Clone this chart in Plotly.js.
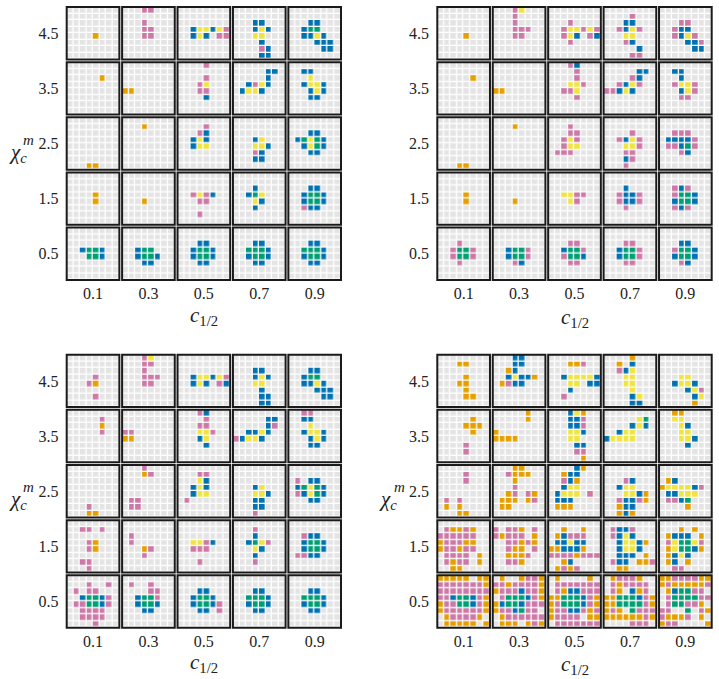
<!DOCTYPE html>
<html><head><meta charset="utf-8">
<script src="https://cdn.plot.ly/plotly-3.0.1.min.js"></script>
<style>html,body{margin:0;padding:0;background:#fff}</style>
</head><body><div id="chart" style="width:719px;height:679px"></div>
<script>
// c_{1/2} categories (left to right) and chi_c^m categories (top to bottom)
const cLabels = ['0.1','0.3','0.5','0.7','0.9'];
const chiLabels = ['4.5','3.5','2.5','1.5','0.5'];
// cell states: . empty, o orange, p pink, y yellow, b blue, g green ; each lattice 8 rows (top->bottom)
const gridTL = [
 ["........ ........ ........ ........ ....o... ........ ........ ........",
  "...pp... ........ ...p.... ...pp... ...pp... ........ ........ ........",
  "........ ........ ........ ..byybyp ..byb.pp ........ ........ ........",
  "........ ........ ...bb... ...byb.. ...yy... ....b... ....pb.. ....bb..",
  "........ ........ ...bb... ..bgg... ..bbyb.. ....bbb. .....bb. ........"],
 ["........ ........ .....o.. ........ ........ ........ ........ ........",
  "........ ........ ........ ........ oo...... ........ ........ ........",
  "....p... ........ ....p... ...py... ...pp... ....b... ........ ........",
  "........ .....bb. .....b.. ..bpyb.. .byyb... ........ ........ ........",
  "........ ..bb.... ...y.... ..byyb.. ...byb.. ...bb... ........ ........"],
 ["........ ........ ........ ........ ........ ........ ........ ...oo...",
  "........ ...o.... ........ ........ ........ ........ ........ ........",
  "........ ....p... ...pb... ..byb... ..byy... ........ ........ ........",
  "........ ........ ........ ...by... ...yyb.. ...pb... ...bb... ........",
  "........ ........ ...bb... .bgygb.. ..bygb.. ...bb... ........ ........"],
 ["........ ........ ........ ....o... ....o... ........ ........ ........",
  "........ ........ ........ ........ ...o.... ........ ........ ........",
  "........ ........ ........ ..pypb.. ...pp... ........ ...p.... ........",
  "........ ........ ...b.... ..bgy... ...yb... ...b.... ........ ........",
  "........ ........ ...bb... ..bggb.. ..bggb.. ..pbb... ........ ........"],
 ["........ ........ ........ ..bggb.. ...ggb.. ........ ........ ........",
  "........ ........ ........ ..bgg... ..bggb.. ...bb... ........ ........",
  "........ ........ ...bb... ..bggb.. ..bggb.. ...bb... ........ ........",
  "........ ........ ...bb... ..gggb.. ..bggb.. ...bb... ........ ........",
  "........ ........ ...bb... ..gggb.. ..bggb.. ...bb... ........ ........"]
];
const gridTR = [
 ["........ ........ ........ ........ ....o... ........ ........ ........",
  "...py... ...p.... ...p.... ...ppp.. ...pp... ........ ........ ........",
  "........ ........ ...p.... ..pyypyp ..pyb.pb ...p.... ........ ........",
  "........ ....p... ...bb... ..pbyp.. ...yy... ...pb... .....b.. ....pp..",
  "........ ........ ...pp... ..pbb... ..pbyp.. ....bbp. .....bb. ........"],
 ["........ ........ .....o.. ........ ........ ........ ........ ........",
  "........ ........ ........ ........ oo...... ........ ........ ........",
  "...pb... ....p... ....p... ...yyp.. ..ppy... ....p... ........ ........",
  "........ .....bb. ....pb.. ..pbyp.. ppbyb... ........ ........ ........",
  "........ ..bb.... ...b.... ..pyyp.. ...byp.. ...pp... ........ ........"],
 ["........ ........ ........ ........ ........ ........ ........ ...oo...",
  "........ ...o.... ........ ........ ........ ........ ........ ........",
  "........ ...p.... ...pp... ..pyp... ..pyy... .ppp.... ........ ........",
  "........ ........ ....p... ..pbyp.. ...yyp.. ...pp... ...bp... ...p....",
  "........ ........ ..ppp... .bbbbp.. .ppbgp.. ...pb... ........ ........"],
 ["........ ........ ........ ....o... ....o... ........ ........ ........",
  "........ ........ ........ ........ ...o.... ........ ........ ........",
  "........ ........ ........ ..yypp.. ...yp... ........ ........ ........",
  "........ ........ ...b.... ..pbbp.. ..pbbp.. ...p.... ........ ........",
  "........ ........ ..pbp... ..pggb.. ..bggb.. ..pbp... ........ ........"],
 ["........ ........ ...p.... ..pggp.. ..pggp.. ...p.... ........ ........",
  "........ ........ ........ ..bggp.. ..bggp.. ...pb... ........ ........",
  "........ ........ ...pp... ..bggp.. ..pggb.. ...pp... ........ ........",
  "........ ........ ...pp... ..bggp.. ..bggp.. ...pp... ........ ........",
  "........ ........ ...bb... ..pggb.. ..bggb.. ...pb... ........ ........"]
];
const gridBL = [
 ["........ ........ ........ ....p... ...po... ........ ....p... ........",
  "...py... ...pp... ...p.... ...ppp.. ...pp... ........ ........ ........",
  "........ ........ ........ ..byybyp ..byb.pb ........ ........ ........",
  "........ ........ ...bb... ...byb.. ...yy... ....b... ....bb.. ....bb..",
  "........ ........ ...bb... ..bgg... ..bbyb.. ....bbb. .....bb. ........"],
 ["........ .....p.. .....o.. .....p.. ........ ........ ........ ........",
  "........ ........ ........ pp...... oo...... ........ ........ ........",
  "...pb... ....p... ...pp... ...yyp.. ...by... ....b... ........ ........",
  "........ .....bb. .....bp. ..bbyb.. pbyyb... ........ ........ ........",
  "..pp.... ..bb.... ...y.... ..byyb.. ...byb.. ...bb... ........ ........"],
 ["........ ........ ........ ........ ........ ........ ...p.... ...oo...",
  "...p.... ...op... ........ ........ ........ .pp..... .pp..... ........",
  "........ ...pp... ...yb... ..byb... ..byy... .p...... ........ ........",
  "........ ........ ........ ...by... ...yyb.. ...bb... ...bb... ...p....",
  "........ ........ .p.bb... .bgygb.. .pbygb.. ...bb... ........ ........"],
 ["........ ..pp.p.. ........ ...po... ...po... ........ ..pp.... ...p....",
  "........ ........ .p...... .p...... ...op... ...p.... ........ ........",
  "........ ........ ........ ..yypb.. ..ppp... ........ ...p.... ........",
  "........ ...p.... ...b.... ..bgyp.. ...yb... ...b.... ...p.... ........",
  "........ ........ ..pbb... ..bggb.. ..bggb.. .ppbb... ........ ........"],
 ["........ ...p..p. .p.pp... ..bggbp. .ppggbp. ..pppp.. ..pppp.. ....p...",
  "........ .p..p... ....pp.. ..bggp.. ..bggb.. ...bb... ........ ........",
  "........ ........ ...bb... ..bggb.. ..bggbp. ...bb.p. ........ ........",
  "........ ........ ...bb... ..gggb.. ..bggb.. ...bb... ........ ........",
  "........ ........ ...bb... ..gggb.. ..bggb.. ...bb... ........ ........"]
];
const gridBR = [
 ["........ ...oo... ........ ....o... ...oo... ....o... ....oo.. ........",
  "...bb... ...bb... ..ob.... ..bybbo. .opbb... ........ ........ ........",
  "........ ...oop.. ........ ..byyyyb ...yy.bb ...b.... ..p..... ........",
  "....o... ..o.b... ..pby... ...yy... ...yy... ....y... ....by.. ....bb..",
  "........ ........ ........ ...yy... ..byyb.. ....byp. .....by. .....o.."],
 ["........ .....o.. ....ooo. .....o.. ........ ....p... ....p... ........",
  ".....o.. .....o.. ........ o....... oooo.... ........ ........ ........",
  "...byo.. ...bbp.. ...bbp.. ...yyb.. ...yy... ....bb.. ....pp.. .....o..",
  "........ .....yg. ....byb. ..byy... byyyy... ........ ........ ........",
  "..oo.... ..yy.... ...yb... ...yy... ...yyb.. ....b... ........ ........"],
 ["........ ....p... ....p... ........ ........ .p.p.... .o.o.... ...oo...",
  "...oo... ..pooo.. ...o.... ...p.... ..op.po. .ooo.op. .oo..... ........",
  "....bo.. ..obb... ..pbo... ..byy... .byyy.p. .bbb.... .ooo.... ........",
  "........ ........ ...pb... ..byy... ...yybo. ..pbbpo. ..obb... ..obo...",
  "........ ........ .ob..... oyyyybp. .bbyyy.. .ppbg... ....o... ........"],
 ["........ .poopo.. pppppp.. opppoo.. oppopp.. .pppp.o. .popp.o. ..oo....",
  "........ p.ppo.p. poppp.o. ..ppopo. ..poo.p. ..ooop.. ..ppo... ........",
  "........ ..o..o.. .obppp.. .bbybb.. oobbbo.. ppppoppp ..ob.... .opop...",
  "........ .pbbp... .pbyb... ..byybo. ..byyb.. ..bbb.o. .pbb.oop ..oo....",
  "........ ...o.o.. .obbb.o. .pyggyp. .oyggbo. .obyb... .ob.o... ..pp...."],
 ["ooooo.oo pppppppo pppppppp ppbggbpo oppggbpo oppppppo .oppppo. .ooooo.o",
  ".o..oppo ppoppppo opppbppo .pgggbpo obggbppp oppbgpp. .opppppp .ooo.opo",
  ".o....o. .ppppppp .pobbppp oogggbpo opgggbpo oppbbpop opppp.oo .ppppppp",
  ".opppo.. .popppp. .po.bop. oogggbpo ooggggpo opo.gppp oooooopo ....ppp.",
  "ooppppoo opooooop .obggpp. .pggggpp .pggppo. pp..g.po pooop.o. opp....o"]
];

const codes = {'.':0,'o':1,'p':2,'y':3,'b':4,'g':5};
const colorscale = [[0,'#e4e4e4'],[0.1,'#e4e4e4'],[0.1,'#E69F00'],[0.3,'#E69F00'],
  [0.3,'#CC79A7'],[0.5,'#CC79A7'],[0.5,'#F0E442'],[0.7,'#F0E442'],
  [0.7,'#0072B2'],[0.9,'#0072B2'],[0.9,'#009E73'],[1,'#009E73']];
const W = 719, H = 679, L = 8.42, span = 4*L + 8, pad = 0.35;
const FONT = '"Times New Roman", "Liberation Serif", Times, serif';

const panels = [
  {grid: gridTL, px:[66.7,341], py:[7,280]},
  {grid: gridTR, px:[437.3,711.7], py:[7,280]},
  {grid: gridBL, px:[66.7,341], py:[354.7,627.7]},
  {grid: gridBR, px:[437.3,711.7], py:[354.7,627.7]}
];

const traces = [], shapes = [], layout = {
  width: W, height: H, margin:{l:0,r:0,t:0,b:0},
  paper_bgcolor:'#fff', plot_bgcolor:'#fff', showlegend:false,
  font:{family:FONT, size:16, color:'#222'}
};

panels.forEach((P, k) => {
  const sfx = k === 0 ? '' : String(k+1);
  const xa = 'x' + sfx, ya = 'y' + sfx;
  const sx = (P.px[1]-P.px[0])/span, sy = (P.py[1]-P.py[0])/span;
  layout['xaxis'+sfx] = {
    domain:[(P.px[0]-pad*sx)/W, (P.px[1]+pad*sx)/W], range:[-pad, span+pad],
    anchor: ya, showgrid:false, zeroline:false, showline:false, ticks:'',
    tickvals: cLabels.map((_,i)=> i*L+4), ticktext: cLabels,
    tickfont:{family:FONT, size:16, color:'#222'}, fixedrange:true
  };
  layout['yaxis'+sfx] = {
    domain:[1-(P.py[1]+pad*sy)/H, 1-(P.py[0]-pad*sy)/H], range:[-pad, span+pad],
    anchor: xa, showgrid:false, zeroline:false, showline:false, ticks:'',
    tickvals: chiLabels.map((_,r)=> (4-r)*L+4), ticktext: chiLabels,
    tickfont:{family:FONT, size:16, color:'#222'}, ticklabelstandoff:5, fixedrange:true
  };
  P.grid.forEach((rowArr, r) => {
    const j = 4 - r;
    rowArr.forEach((s, i) => {
      const rows = s.split(' ').map(t => (t + '........').slice(0,8));
      const z = rows.slice().reverse().map(t => t.split('').map(ch => codes[ch] ?? 0));
      traces.push({type:'heatmap', z, x0: i*L + 0.5, dx:1, y0: j*L + 0.5, dy:1,
        xaxis: xa, yaxis: ya, zmin:0, zmax:5, colorscale, showscale:false,
        xgap:1.3, ygap:1.3, hoverinfo:'skip'});
      shapes.push({type:'rect', xref:xa, yref:ya, x0:i*L, x1:i*L+8, y0:j*L, y1:j*L+8,
        line:{color:'#1a1a1a', width:2}, fillcolor:'rgba(0,0,0,0)'});
    });
  });
});
layout.shapes = shapes;

const xt = '<i>c</i><sub>1/2</sub>';
const ann = (x, y, text, size) => ({xref:'paper', yref:'paper', x:x/W, y:1-y/H, text, showarrow:false,
  xanchor:'center', yanchor:'middle', font:{family:FONT, size:size, color:'#222'}});
layout.annotations = [
  ann(204, 316, xt, 21), ann(574.5, 318, xt, 21), ann(204, 663, xt, 21), ann(574.5, 665, xt, 21),
  ann(18, 153, '<i>χ</i><sub><i>c</i></sub>', 21), ann(29, 140, '<i>m</i>', 15),
  ann(18, 500, '<i>χ</i><sub><i>c</i></sub>', 21), ann(29, 487, '<i>m</i>', 15),
  ann(388, 500, '<i>χ</i><sub><i>c</i></sub>', 21), ann(399, 487, '<i>m</i>', 15)
];

Plotly.newPlot('chart', traces, layout, {staticPlot:true, displayModeBar:false});
</script></body></html>
